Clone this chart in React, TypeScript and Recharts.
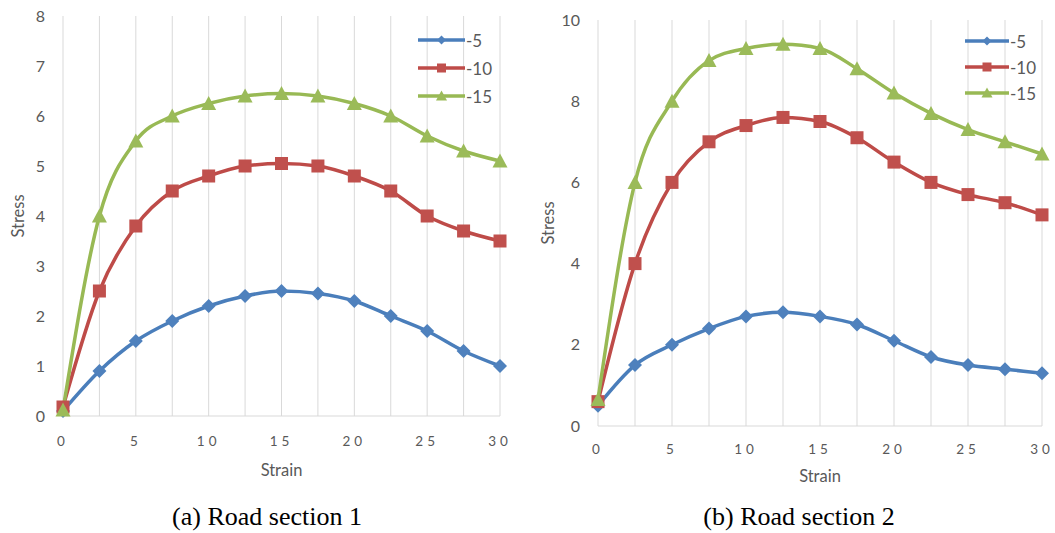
import React from 'react';
import { LineChart, Line, XAxis, YAxis, CartesianGrid, Legend, Label } from 'recharts';

const strain = [0, 2.5, 5, 7.5, 10, 12.5, 15, 17.5, 20, 22.5, 25, 27.5, 30];
const seriesNames = ['-5', '-10', '-15'];

// road section 1
const road1Minus5 = [0.1, 0.9, 1.5, 1.9, 2.2, 2.4, 2.5, 2.45, 2.3, 2.0, 1.7, 1.3, 1.0];
const road1Minus10 = [0.18, 2.5, 3.8, 4.5, 4.8, 5.0, 5.05, 5.0, 4.8, 4.5, 4.0, 3.7, 3.5];
const road1Minus15 = [0.12, 4.0, 5.5, 6.0, 6.25, 6.4, 6.45, 6.4, 6.25, 6.0, 5.6, 5.3, 5.1];
const road1Ticks = [0, 1, 2, 3, 4, 5, 6, 7, 8];

// road section 2
const road2Minus5 = [0.5, 1.5, 2.0, 2.4, 2.7, 2.8, 2.7, 2.5, 2.1, 1.7, 1.5, 1.4, 1.3];
const road2Minus10 = [0.6, 4.0, 6.0, 7.0, 7.4, 7.6, 7.5, 7.1, 6.5, 6.0, 5.7, 5.5, 5.2];
const road2Minus15 = [0.65, 6.0, 8.0, 9.0, 9.3, 9.4, 9.3, 8.8, 8.2, 7.7, 7.3, 7.0, 6.7];
const road2Ticks = [0, 2, 4, 6, 8, 10];

const colors = ['#4a7ebb', '#be4b48', '#98b954'];
const markerColors = ['#4f81bd', '#c0504d', '#9bbb59'];
const shapes = ['diamond', 'square', 'triangle'];
const font = 'Lato, "Open Sans", sans-serif';
const gray = '#595959';

const buildRows = (a: number[], b: number[], c: number[]) =>
  strain.map((s, i) => ({ strain: s, s5: a[i], s10: b[i], s15: c[i] }));

const keys = ['s5', 's10', 's15'];

function marker(shape: string, cx: number, cy: number, r: number, fill: string, key?: any) {
  if (shape === 'diamond') {
    return <path key={key} d={`M${cx},${cy - r}L${cx + r},${cy}L${cx},${cy + r}L${cx - r},${cy}Z`} fill={fill} />;
  }
  if (shape === 'square') {
    return <rect key={key} x={cx - r} y={cy - r} width={2 * r} height={2 * r} fill={fill} />;
  }
  return <path key={key} d={`M${cx},${cy - r - 1}L${cx + r + 1},${cy + r}L${cx - r - 1},${cy + r}Z`} fill={fill} />;
}

const makeDot = (idx: number) => (props: any) => {
  const { cx, cy, index } = props;
  if (cx == null || cy == null) return <g key={index} />;
  const r = idx === 0 ? 7 : 6.5;
  return marker(shapes[idx], cx, cy, r, markerColors[idx], `${idx}-${index}`);
};

const LegendBox = ({ rowGap, lineW }: { rowGap: number; lineW: number }) => (
  <div style={{ fontFamily: font, fontSize: 17, color: gray }}>
    {seriesNames.map((n, i) => (
      <div key={n} style={{ display: 'flex', alignItems: 'center', height: rowGap }}>
        <svg width={lineW} height={12} style={{ display: 'block' }}>
          <line x1={0} y1={6} x2={lineW} y2={6} stroke={colors[i]} strokeWidth={3.5} />
          {marker(shapes[i], lineW / 2, 6, 4.5, markerColors[i])}
        </svg>
        <span style={{ marginLeft: 1 }}>{n}</span>
      </div>
    ))}
  </div>
);

type PanelProps = {
  data: any[];
  yTicks: number[];
  width: number;
  margin: { top: number; right: number; bottom: number; left: number };
  yWidth: number;
  xTickMargin: number;
  strainOffset: number;
  legendLeft: number;
  legendTop: number;
  rowGap: number;
  lineW: number;
};

const Panel = (p: PanelProps) => (
  <LineChart width={p.width} height={500} data={p.data} margin={p.margin}>
    <CartesianGrid horizontal={false} stroke="#d9d9d9" />
    <XAxis
      dataKey="strain"
      type="number"
      domain={[0, 30]}
      ticks={strain}
      interval={0}
      tickFormatter={(v: number) => (v % 5 === 0 ? String(v) : '')}
      height={70}
      tickSize={0}
      tickMargin={p.xTickMargin}
      stroke="#d9d9d9"
      tick={{ fill: gray, fontSize: 13.5, fontFamily: font, letterSpacing: 4 } as any}
    >
      <Label value="Strain" position="insideBottom" offset={p.strainOffset} fill={gray} fontSize={16.5} fontFamily={font} />
    </XAxis>
    <YAxis
      type="number"
      domain={[p.yTicks[0], p.yTicks[p.yTicks.length - 1]]}
      ticks={p.yTicks}
      width={p.yWidth}
      axisLine={false}
      tickLine={false}
      tickSize={0}
      tickMargin={18}
      tick={{ fill: gray, fontSize: 16, fontFamily: font }}
    >
      <Label
        value="Stress"
        angle={-90}
        position="insideLeft"
        offset={18}
        fill={gray}
        fontSize={16.5}
        fontFamily={font}
        style={{ textAnchor: 'middle' }}
      />
    </YAxis>
    <Legend
      layout="vertical"
      align="center"
      verticalAlign="middle"
      content={() => <LegendBox rowGap={p.rowGap} lineW={p.lineW} />}
      wrapperStyle={{ position: 'absolute', left: p.legendLeft, top: p.legendTop, width: 'auto' }}
    />
    {keys.map((k, i) => (
      <Line
        key={k}
        dataKey={k}
        name={seriesNames[i]}
        type="monotone"
        stroke={colors[i]}
        strokeWidth={3.5}
        dot={makeDot(i)}
        activeDot={false}
        isAnimationActive={false}
      />
    ))}
  </LineChart>
);

const captionStyle: React.CSSProperties = {
  position: 'absolute',
  top: 502,
  fontFamily: '"Liberation Serif", "Times New Roman", serif',
  fontSize: 26,
  lineHeight: '30px',
  color: '#000',
  textAlign: 'center',
  width: 300,
};

export default function App() {
  const road1 = buildRows(road1Minus5, road1Minus10, road1Minus15);
  const road2 = buildRows(road2Minus5, road2Minus10, road2Minus15);
  return (
    <div style={{ position: 'absolute', left: 0, top: 0, width: 1055, height: 533, background: '#fff' }}>
      <div style={{ position: 'absolute', left: 0, top: 0 }}>
        <Panel
          data={road1}
          yTicks={road1Ticks}
          width={530}
          margin={{ top: 16, right: 30, bottom: 14, left: 0 }}
          yWidth={63}
          xTickMargin={20}
          strainOffset={10}
          legendLeft={418}
          legendTop={26}
          rowGap={28}
          lineW={47}
        />
      </div>
      <div style={{ position: 'absolute', left: 530, top: 0 }}>
        <Panel
          data={road2}
          yTicks={road2Ticks}
          width={525}
          margin={{ top: 20, right: 13, bottom: 4, left: 0 }}
          yWidth={68}
          xTickMargin={18}
          strainOffset={14}
          legendLeft={435}
          legendTop={28}
          rowGap={26}
          lineW={44}
        />
      </div>
      <div style={{ ...captionStyle, left: 267 - 150 }}>(a) Road section 1</div>
      <div style={{ ...captionStyle, left: 799 - 150 }}>(b) Road section 2</div>
    </div>
  );
}
